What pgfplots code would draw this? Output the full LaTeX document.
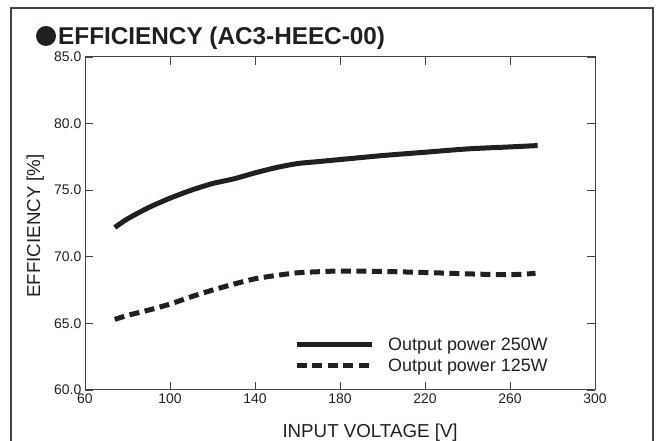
\documentclass[border=0pt]{standalone}
\usepackage{pgfplots}
\pgfplotsset{compat=1.18}
\usepackage{fontspec}
\setmainfont{Liberation Sans}
\definecolor{ink}{HTML}{231F20}
\definecolor{frame}{HTML}{444444}
\begin{document}
\begin{tikzpicture}[x=1bp,y=1bp]
\useasboundingbox (0,0) rectangle (658,441);
\draw[frame, line width=1.1bp] (11,0) -- (11,433) -- (653,433) -- (653,0);
\fill[ink] (46,405) circle (10);
\node[anchor=base west, inner sep=0pt, font=\fontsize{24.4}{27}\selectfont\bfseries, text=ink] at (58,396) {EFFICIENCY (AC3-HEEC-00)};
\begin{axis}[
  at={(85bp,51bp)}, anchor=south west,
  scale only axis, width=510bp, height=333bp,
  xmin=60, xmax=300, ymin=60, ymax=85,
  xtick={60,100,...,300}, ytick={60,65,...,85},
  tick label style={font=\fontsize{14}{16}\selectfont, text=ink, inner sep=1.5bp},
  xticklabel style={yshift=-2.5bp},
  yticklabel style={xshift=-2bp, /pgf/number format/.cd, fixed, fixed zerofill, precision=1},
  /pgf/number format/assume math mode=true,
  tick pos=both, tick align=inside, major tick length=8bp,
  axis line style={frame, line width=1bp},
  tick style={frame, line width=0.9bp},
  xlabel={INPUT VOLTAGE [V]},
  ylabel={EFFICIENCY [\%]},
  label style={font=\fontsize{18.8}{21}\selectfont, text=ink},
  xlabel style={at={(axis description cs:0.559,0)}, anchor=base, yshift=-48bp},
  ylabel style={at={(axis description cs:-0.088,0.4925)}, anchor=base},
  legend image code/.code={\draw[#1] (0bp,0bp) -- (75bp,0bp);},
  legend style={draw=none, fill=none, at={(axis description cs:0.4098,0.161)}, anchor=north west,
    font=\fontsize{18}{20}\selectfont, text=ink, inner sep=0pt, row sep=5bp,
    nodes={inner sep=1bp, anchor=west}, /tikz/every odd column/.append style={column sep=13bp}},
  legend cell align=left,
]
\addplot[ink, line width=5bp, line join=round, smooth, tension=0.4] coordinates {
(74,72.2) (80,72.85) (90,73.7) (100,74.4) (110,75.0) (120,75.5) (130,75.85) (140,76.3) (150,76.7) (160,77.0) (170,77.15) (180,77.3) (200,77.6) (220,77.85) (240,78.1) (260,78.25) (273,78.35)
};
\addlegendentry{Output power 250W}
\addplot[ink, line width=5bp, dash pattern=on 10bp off 5.5bp, smooth, tension=0.4] coordinates {
(74,65.3) (80,65.6) (90,66.0) (100,66.45) (110,67.0) (120,67.5) (130,67.95) (140,68.35) (150,68.6) (160,68.8) (170,68.88) (180,68.93) (200,68.9) (220,68.82) (240,68.72) (255,68.66) (265,68.68) (272,68.76)
};
\addlegendentry{Output power 125W}
\end{axis}
\end{tikzpicture}
\end{document}
